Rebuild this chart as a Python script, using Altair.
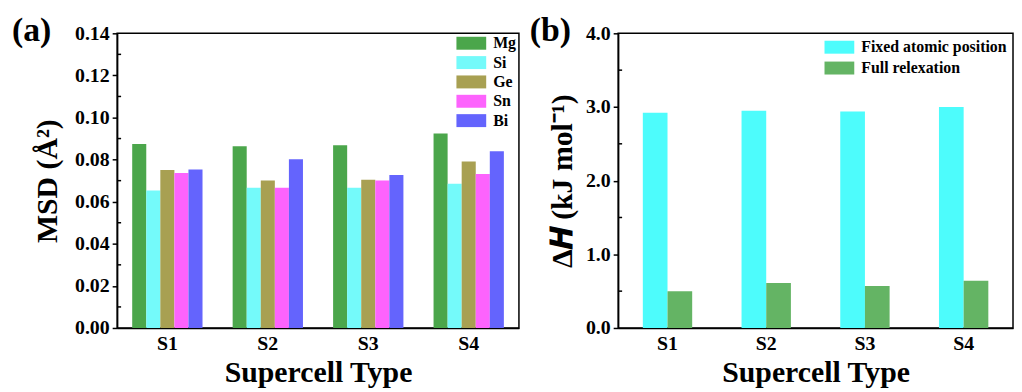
import altair as alt
import pandas as pd

FONT = "Liberation Serif"

# Panel (a) data
supercells = ["S1", "S2", "S3", "S4"]
elements = ["Mg", "Si", "Ge", "Sn", "Bi"]
msd_Mg = [0.0874, 0.0864, 0.0868, 0.0924]
msd_Si = [0.0653, 0.0666, 0.0666, 0.0685]
msd_Ge = [0.0750, 0.0701, 0.0704, 0.0791]
msd_Sn = [0.0736, 0.0666, 0.0701, 0.0731]
msd_Bi = [0.0753, 0.0802, 0.0727, 0.0840]
elem_colors = ["#4ba64b", "#74fafa", "#a8a052", "#fd63fd", "#6464fd"]

# Panel (b) data
methods = ["Fixed atomic position", "Full relexation"]
dh_fixed = [2.92, 2.95, 2.94, 3.00]
dh_full = [0.50, 0.61, 0.57, 0.64]
method_colors = ["#4dfcfc", "#64b464"]

a_ticks = [0.0, 0.02, 0.04, 0.06, 0.08, 0.10, 0.12, 0.14]
a_minor = [0.01, 0.03, 0.05, 0.07, 0.09, 0.11, 0.13]
b_ticks = [0.0, 1.0, 2.0, 3.0, 4.0]
b_minor = [0.5, 1.5, 2.5, 3.5]

rows_a = []
for e, vals in zip(elements, [msd_Mg, msd_Si, msd_Ge, msd_Sn, msd_Bi]):
    for s, v in zip(supercells, vals):
        rows_a.append({"cell": s, "elem": e, "v": v})
df_a = pd.DataFrame(rows_a)

rows_b = []
for m, vals in zip(methods, [dh_fixed, dh_full]):
    for s, v in zip(supercells, vals):
        rows_b.append({"cell": s, "method": m, "v": v})
df_b = pd.DataFrame(rows_b)

# wide rectangle legend swatch (30 x 13 px at symbolSize 225)
RECT = "M-2,-0.87H2V0.87H-2Z"

def legend(offset, row_pad):
    return alt.Legend(orient="top-right", title=None, labelFont=FONT,
                      labelFontSize=16, labelFontWeight="bold", labelColor="black",
                      symbolType=RECT, symbolSize=225, symbolStrokeWidth=0,
                      symbolOpacity=1, labelOffset=14, rowPadding=row_pad,
                      offset=offset, padding=0)

xaxis = alt.Axis(title="Supercell Type", labelAngle=0, ticks=False,
                 labelPadding=6, titlePadding=4)

yaxis_a = alt.Axis(title="MSD (Å²)", values=a_ticks, format=".2f",
                   grid=False, titlePadding=12)
yscale_a = alt.Scale(domain=[0, 0.14], nice=False)
yaxis_b = alt.Axis(title="Δ𝑯 (kJ mol⁻¹)", values=b_ticks, format=".1f",
                   grid=False, titlePadding=8)
yscale_b = alt.Scale(domain=[0, 4], nice=False)

bars_a = alt.Chart(df_a).mark_bar().encode(
    x=alt.X("cell:N", sort=supercells, axis=xaxis,
            scale=alt.Scale(paddingInner=0.3, paddingOuter=0.15)),
    xOffset=alt.XOffset("elem:N", sort=elements),
    y=alt.Y("v:Q", scale=yscale_a, axis=yaxis_a),
    color=alt.Color("elem:N", sort=elements,
                    scale=alt.Scale(domain=elements, range=elem_colors),
                    legend=legend(2, 3.5)),
)
minor_a = alt.Chart(pd.DataFrame({"v": a_minor})).mark_rule(
    color="black", strokeWidth=1.5).encode(
    y=alt.Y("v:Q", scale=yscale_a, axis=yaxis_a), x=alt.value(0), x2=alt.value(4))
lab_a = alt.Chart(pd.DataFrame({"t": ["(a)"]})).mark_text(
    font=FONT, fontSize=34, fontWeight="bold", align="left",
    baseline="middle", color="black").encode(
    text="t:N", x=alt.value(-106), y=alt.value(-2))
panel_a = alt.layer(bars_a, minor_a, lab_a).properties(width=405, height=297)

bars_b = alt.Chart(df_b).mark_bar().encode(
    x=alt.X("cell:N", sort=supercells, axis=xaxis,
            scale=alt.Scale(paddingInner=0.5, paddingOuter=0.25)),
    xOffset=alt.XOffset("method:N", sort=methods),
    y=alt.Y("v:Q", scale=yscale_b, axis=yaxis_b),
    color=alt.Color("method:N", sort=methods,
                    scale=alt.Scale(domain=methods, range=method_colors),
                    legend=legend(6, 5)),
)
minor_b = alt.Chart(pd.DataFrame({"v": b_minor})).mark_rule(
    color="black", strokeWidth=1.5).encode(
    y=alt.Y("v:Q", scale=yscale_b, axis=yaxis_b), x=alt.value(0), x2=alt.value(4))
lab_b = alt.Chart(pd.DataFrame({"t": ["(b)"]})).mark_text(
    font=FONT, fontSize=34, fontWeight="bold", align="left",
    baseline="middle", color="black").encode(
    text="t:N", x=alt.value(-89), y=alt.value(-2))
panel_b = alt.layer(bars_b, minor_b, lab_b).properties(width=398, height=297)

chart = alt.hconcat(panel_a, panel_b, spacing=9).resolve_scale(
    color="independent", x="independent", y="independent", xOffset="independent"
).configure(padding={"top": 4, "left": 3, "right": 0, "bottom": 0},
            background="white").configure_view(
    stroke="black", strokeWidth=1.5
).configure_axis(
    labelFont=FONT, labelFontSize=20, labelFontWeight="bold", labelColor="black",
    titleFont=FONT, titleFontSize=30, titleFontWeight="bold", titleColor="black",
    domainColor="black", domainWidth=1.5, tickColor="black", tickWidth=1.5,
    tickSize=5, labelPadding=3,
)

chart.save("out.html", embed_options={"renderer": "svg", "actions": False})
